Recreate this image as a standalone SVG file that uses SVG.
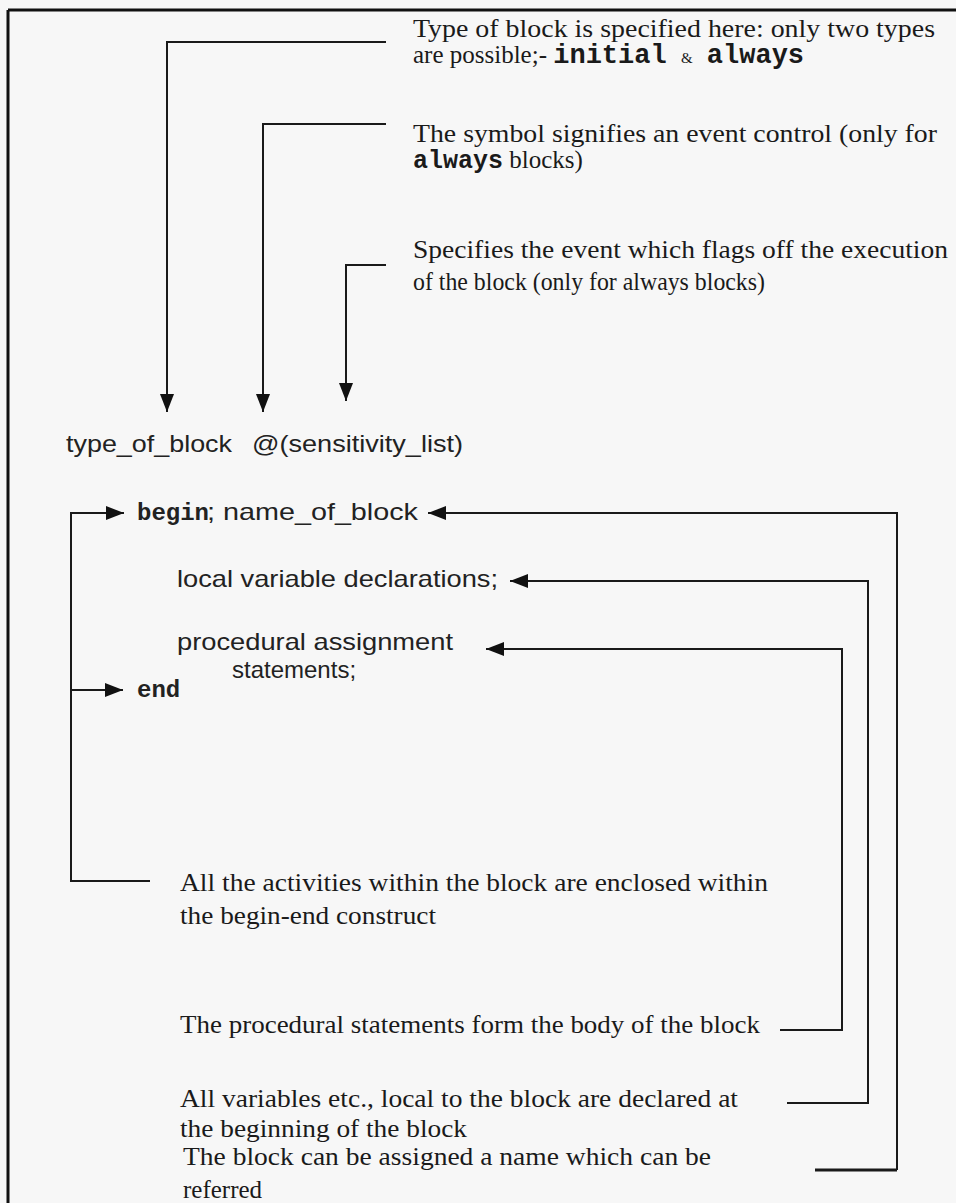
<svg xmlns="http://www.w3.org/2000/svg" width="956" height="1203" viewBox="0 0 956 1203">
<style>
.bg{fill:#f7f7f7}
.ln{fill:none;stroke:#1a1a1a;stroke-width:2}
.brd{fill:none;stroke:#111;stroke-width:3}
.sr{font-family:"Liberation Serif","Times New Roman",serif;font-size:25px;fill:#1a1a1a}
.ss{font-family:"Liberation Sans",Arial,sans-serif;font-size:24px;fill:#222}
.mb{font-family:"Liberation Mono","Courier New",monospace;font-weight:bold}
</style>
<defs>
<marker id="ah" viewBox="0 0 18 14" refX="18" refY="7" markerWidth="18" markerHeight="14" markerUnits="userSpaceOnUse" orient="auto">
<path d="M0,0 L18,7 L0,14 Z" fill="#111"/>
</marker>
</defs>
<rect class="bg" x="0" y="0" width="956" height="1203"/>
<g id="frame">
<path class="brd" d="M8,1203 V10 M8,10 H956"/>
</g>
<g id="connectors">
<path class="ln" d="M386,42 H167 V412" marker-end="url(#ah)"/>
<path class="ln" d="M386,124 H263 V412" marker-end="url(#ah)"/>
<path class="ln" d="M386,265 H346 V401" marker-end="url(#ah)"/>
<path class="ln" d="M150,881 H71 V513 H124" marker-end="url(#ah)"/>
<path class="ln" d="M71,690 H123" marker-end="url(#ah)"/>
<path class="ln" d="M897,1170 V513 H428" marker-end="url(#ah)"/>
<path class="ln" d="M815,1170 H897" style="stroke-width:3"/>
<path class="ln" d="M787,1103 H868 V581 H510" marker-end="url(#ah)"/>
<path class="ln" d="M780,1030 H842 V649 H486" marker-end="url(#ah)"/>
</g>
<g id="note-type">
<text class="sr" x="413" y="37" textLength="522" lengthAdjust="spacingAndGlyphs">Type of block is specified here: only two types</text>
<text class="sr" x="413" y="63">are possible;- <tspan class="mb" font-size="27">initial</tspan> <tspan font-size="15" dx="8">&amp;</tspan> <tspan class="mb" font-size="27" dx="8">always</tspan></text>
</g>
<g id="note-symbol">
<text class="sr" x="413" y="142" textLength="524" lengthAdjust="spacingAndGlyphs">The symbol signifies an event control (only for</text>
<text class="sr" x="413" y="168"><tspan class="mb">always</tspan> blocks)</text>
</g>
<g id="note-event">
<text class="sr" x="413" y="258" textLength="535" lengthAdjust="spacingAndGlyphs">Specifies the event which flags off the execution</text>
<text class="sr" x="413" y="290" textLength="352" lengthAdjust="spacingAndGlyphs">of the block (only for always blocks)</text>
</g>
<g id="header">
<text class="ss" x="66" y="452" textLength="166" lengthAdjust="spacingAndGlyphs">type_of_block</text>
<text class="ss" x="252" y="452" textLength="211" lengthAdjust="spacingAndGlyphs">@(sensitivity_list)</text>
</g>
<g id="begin">
<text class="ss mb" x="137" y="520">begin</text>
<text class="ss" x="207" y="520" textLength="211" lengthAdjust="spacingAndGlyphs">; name_of_block</text>
</g>
<g id="decl">
<text class="ss" x="177" y="587" textLength="321" lengthAdjust="spacingAndGlyphs">local variable declarations;</text>
</g>
<g id="proc">
<text class="ss" x="177" y="650" textLength="276" lengthAdjust="spacingAndGlyphs">procedural assignment</text>
<text class="ss" x="232" y="678">statements;</text>
</g>
<g id="end">
<text class="ss mb" x="137" y="697">end</text>
</g>
<g id="note-beginend">
<text class="sr" x="180" y="891" textLength="588" lengthAdjust="spacingAndGlyphs">All the activities within the block are enclosed within</text>
<text class="sr" x="180" y="924" textLength="256" lengthAdjust="spacingAndGlyphs">the begin-end construct</text>
</g>
<g id="note-body">
<text class="sr" x="180" y="1033" textLength="580" lengthAdjust="spacingAndGlyphs">The procedural statements form the body of the block</text>
</g>
<g id="note-local">
<text class="sr" x="180" y="1107" textLength="558" lengthAdjust="spacingAndGlyphs">All variables etc., local to the block are declared at</text>
<text class="sr" x="180" y="1137" textLength="287" lengthAdjust="spacingAndGlyphs">the beginning of the block</text>
</g>
<g id="note-name">
<text class="sr" x="183" y="1165" textLength="528" lengthAdjust="spacingAndGlyphs">The block can be assigned a name which can be</text>
<text class="sr" x="183" y="1198">referred</text>
</g>
</svg>
